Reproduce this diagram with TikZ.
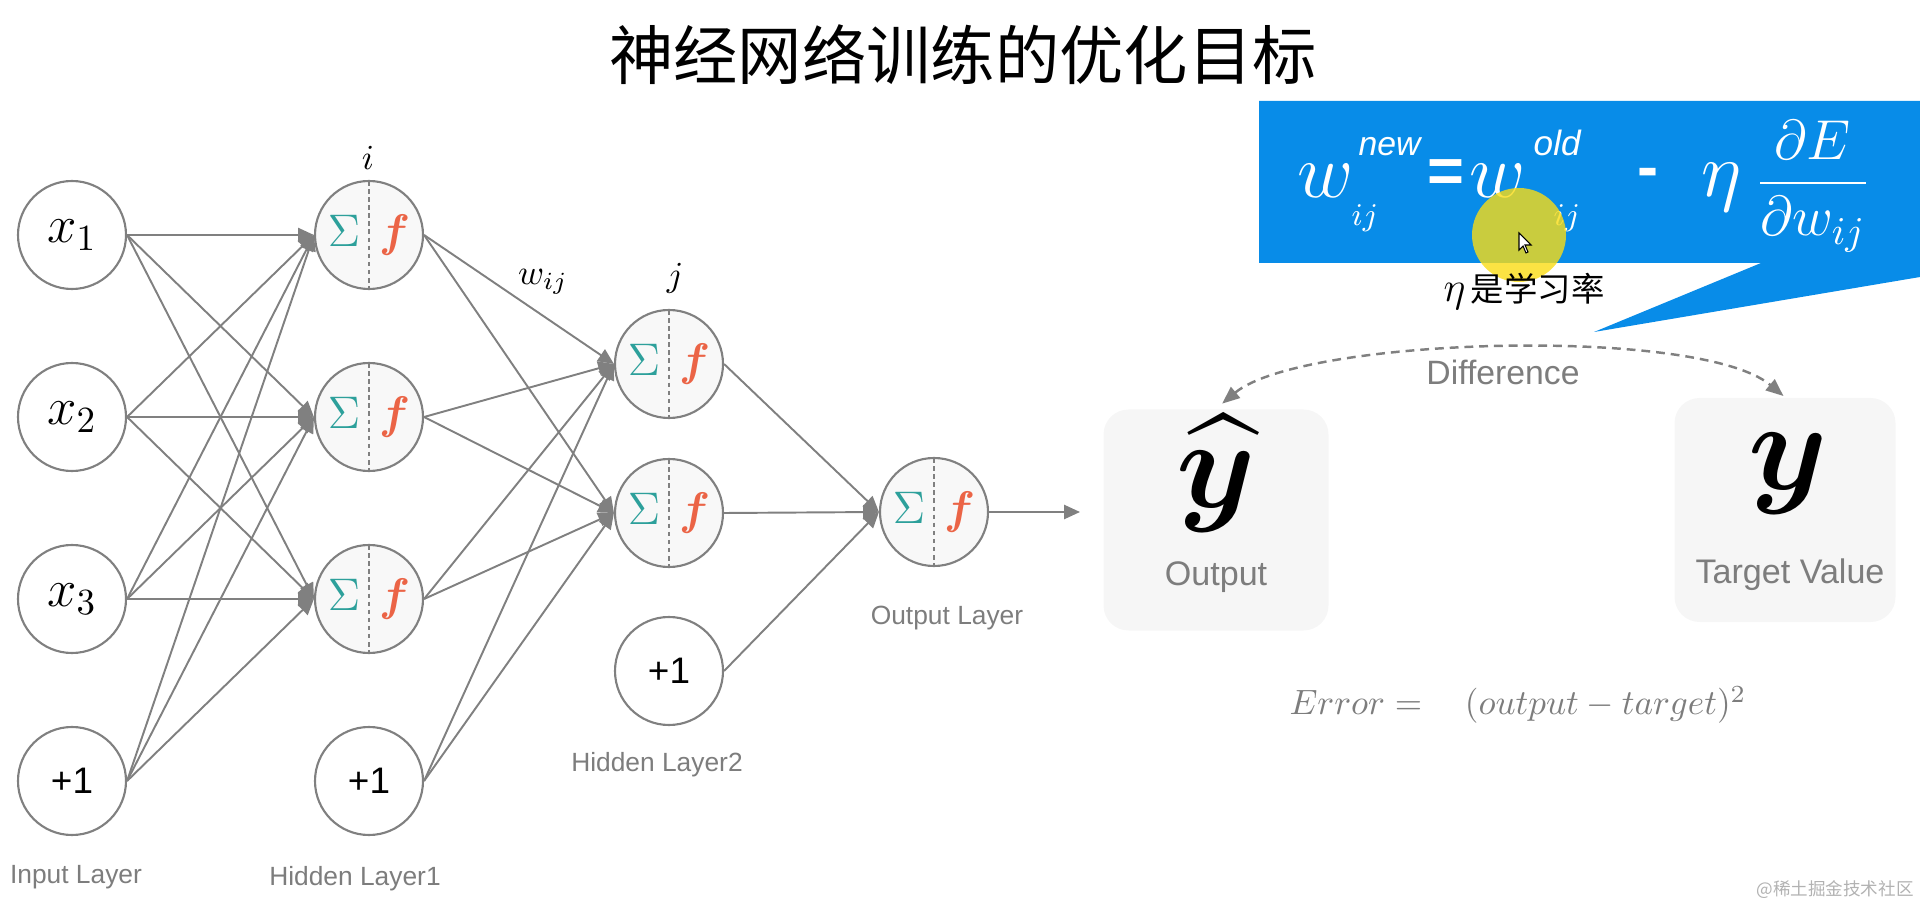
\RequirePackage{fix-cm}
\documentclass[tikz,border=0pt]{standalone}
\usepackage{amsmath,amssymb}
\usepackage{fontspec}
\setsansfont{Liberation Sans}
\newfontfamily\cjk{Noto Sans CJK SC}
\usetikzlibrary{arrows.meta}
\usepackage{xcolor}

\definecolor{lgray}{RGB}{128,128,128}
\definecolor{labgray}{RGB}{125,125,125}
\definecolor{sigc}{RGB}{45,160,155}
\definecolor{fcol}{RGB}{235,100,70}
\definecolor{nfill}{RGB}{248,248,248}
\definecolor{boxfill}{RGB}{246,246,246}
\definecolor{callblue}{RGB}{8,140,232}
\definecolor{hilite}{RGB}{250,220,20}

\newcommand{\neuronsym}{\fontsize{13}{15}\selectfont$\color{sigc}\Sigma$\hspace{1.9mm}$\color{fcol}\boldsymbol{f}$}

\begin{document}
\begin{tikzpicture}[every node/.style={inner sep=1pt},
      innode/.style={circle,draw=lgray,line width=0.6pt,fill=white,minimum size=1.08cm,inner sep=0pt},
      neuron/.style={innode,fill=nfill,
        path picture={\draw[lgray,line width=0.5pt,dash pattern=on 1.3pt off 1pt]
          (path picture bounding box.north) -- (path picture bounding box.south);}},
      bias/.style={innode,font=\sffamily\fontsize{10.5}{12}\selectfont},
      wire/.style={draw=lgray,line width=0.55pt,-{Triangle[length=4.5pt,width=4pt]}},
      layerlab/.style={text=labgray,font=\sffamily\fontsize{7.5}{9}\selectfont},
      errbox/.style={rounded corners=0.25cm,fill=boxfill,minimum width=2.25cm,minimum height=2.21cm},
      boxlab/.style={text=labgray,font=\sffamily\fontsize{9.7}{11}\selectfont},
      fw/.style={text=white,inner sep=0pt}]
    \useasboundingbox (0,0) rectangle (19.20,9.09);

    % title
    \node (title) at (9.63,8.54) {\cjk\fontsize{18.3}{22}\selectfont 神经网络训练的优化目标};

    % input layer
    \foreach \n/\y/\t in {1/6.74/$x_1$,2/4.92/$x_2$,3/3.10/$x_3$}
      \node[innode,font=\fontsize{15}{18}\selectfont] (in\n) at (0.72,\y) {\t};
    \node[bias] (in4) at (0.72,1.28) {+1};

    % hidden layer 1
    \foreach \n/\y in {1/6.74,2/4.92,3/3.10}
      \node[neuron] (ha\n) at (3.69,\y) {\neuronsym};
    \node[bias] (ha4) at (3.69,1.28) {+1};

    % hidden layer 2
    \foreach \n/\y in {1/5.45,2/3.96}
      \node[neuron] (hb\n) at (6.69,\y) {\neuronsym};
    \node[bias] (hb3) at (6.69,2.38) {+1};

    % output layer
    \node[neuron] (out) at (9.34,3.97) {\neuronsym};
    \coordinate (outend) at (10.80,3.97);

    % connections
    \foreach \s in {1,...,4}
      \foreach \t in {1,2,3}
        \draw[wire] (in\s.east) -- (ha\t.west);
    \foreach \s in {1,...,4}
      \foreach \t in {1,2}
        \draw[wire] (ha\s.east) -- (hb\t.west);
    \foreach \s in {1,2,3}
      \draw[wire] (hb\s.east) -- (out.west);
    \draw[wire] (out.east) -- (outend);

    % index labels
    \node[font=\fontsize{10}{12}\selectfont] (lbi) at (3.68,7.51) {$i$};
    \node[font=\fontsize{10}{12}\selectfont] (lbj) at (6.75,6.31) {$j$};
    \node[font=\fontsize{10}{12}\selectfont] (lbw) at (5.43,6.27) {$w_{ij}$};

    % layer names
    \node[layerlab] (lin) at (0.76,0.32) {Input Layer};
    \node[layerlab] (lha) at (3.55,0.30) {Hidden Layer1};
    \node[layerlab] (lhb) at (6.57,1.44) {Hidden Layer2};
    \node[layerlab] (lout) at (9.47,2.91) {Output Layer};

    % output vs target
    \node[errbox] (outbox) at (12.16,3.89) {};
    \node[errbox,minimum width=2.21cm,minimum height=2.24cm] (tgtbox) at (17.85,3.99) {};
    \node[anchor=base,inner sep=0pt] (yhat) at (12.16,4.01) {\fontsize{36}{40}\selectfont$\boldsymbol{\widehat{y}}$};
    \node[boxlab] (lyhat) at (12.16,3.32) {Output};
    \node[anchor=base,inner sep=0pt] (ytgt) at (17.88,4.20) {\fontsize{36}{40}\selectfont$\boldsymbol{y}$};
    \node[boxlab] (lytgt) at (17.90,3.34) {Target Value};
    \draw[lgray,line width=0.7pt,dash pattern=on 2.5pt off 1.7pt,
          {Triangle[length=5pt,width=4pt]}-{Triangle[length=5pt,width=4pt]},
          shorten <=0.08cm,shorten >=0.02cm]
      (outbox.north) to[out=40,in=140,looseness=0.5] (tgtbox.north);
    \node[text=labgray,font=\sffamily\fontsize{9.6}{11}\selectfont] (diff) at (15.03,5.37) {Difference};
    \node[text=labgray,font=\fontsize{10}{12}\selectfont] (err) at (15.18,2.04)
      {$Error =\hspace{0.33cm}(output - target)^2$};

    % update rule callout
    \fill[callblue] (12.59,8.08) -- (19.20,8.08) -- (19.20,6.32) -- (15.94,5.77)
      -- (17.61,6.46) -- (12.59,6.46) -- cycle;
    \node[fw,anchor=base] (w1) at (13.26,7.11) {\fontsize{22}{26}\selectfont$w$};
    \node[fw,anchor=base west] (w1sup) at (13.58,7.53) {\sffamily\itshape\fontsize{9.6}{11}\selectfont new};
    \node[fw,anchor=base west] (w1sub) at (13.51,6.83) {\fontsize{9}{11}\selectfont$ij$};
    \node[fw] (eq) at (14.46,7.33) {\sffamily\bfseries\fontsize{18}{20}\selectfont =};
    \node[fw,anchor=base] (w2) at (14.98,7.11) {\fontsize{22}{26}\selectfont$w$};
    \node[fw,anchor=base west] (w2sup) at (15.33,7.53) {\sffamily\itshape\fontsize{10}{12}\selectfont old};
    \node[fw,anchor=base west] (w2sub) at (15.53,6.83) {\fontsize{9}{11}\selectfont$ij$};
    \node[fw] (minus) at (16.48,7.31) {\sffamily\bfseries\fontsize{18}{20}\selectfont -};
    \node[fw,anchor=base] (eta) at (17.22,7.12) {\fontsize{22}{26}\selectfont$\eta$};
    \node[fw] (grad) at (18.13,7.23) {\fontsize{16}{19}\selectfont$\dfrac{\partial E}{\partial w_{ij}}$};

    % cursor highlight
    \fill[hilite,opacity=0.8] (15.19,6.74) circle (0.47);
    \draw[black,line width=0.3pt,fill=white] (15.19,6.76) -- (15.19,6.59) -- (15.23,6.63)
      -- (15.26,6.56) -- (15.28,6.57) -- (15.25,6.64) -- (15.31,6.64) -- cycle;
    \node (etanote) at (15.24,6.18) {\fontsize{9.5}{11}\selectfont{\fontsize{12}{14}\selectfont$\eta$}\,{\cjk 是学习率}};

    % watermark
    \node[text=black!30] (mark) at (18.35,0.19) {\cjk\fontsize{5}{6}\selectfont @稀土掘金技术社区};
  \end{tikzpicture}
\end{document}
